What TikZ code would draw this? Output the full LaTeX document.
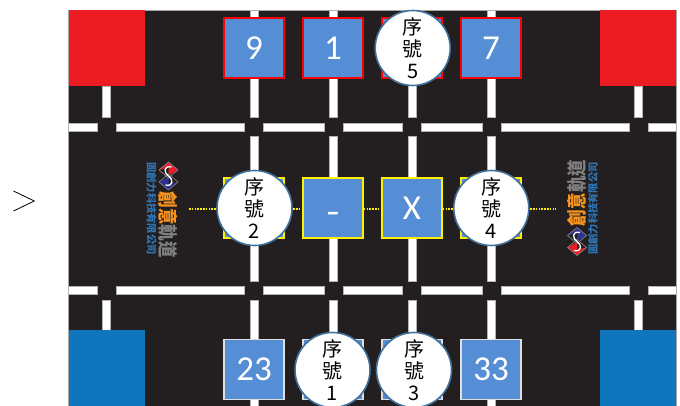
\documentclass[tikz,border=0pt]{standalone}
\usepackage{graphicx}
\usepackage{fontspec}
\setmainfont{Carlito}
\newfontfamily\cjk{Noto Sans CJK TC}
\definecolor{boardblack}{HTML}{231F20}
\definecolor{cornerred}{HTML}{ED1C24}
\definecolor{cornerblue}{HTML}{0F75BC}
\definecolor{tilefill}{HTML}{558ED5}
\definecolor{ringblue}{HTML}{41719C}
\definecolor{logoorange}{HTML}{F7941D}
\definecolor{logogray}{HTML}{808080}
\definecolor{logoblue}{HTML}{2F75B5}
\definecolor{logonavy}{HTML}{2E3192}
\tikzset{
  x=1pt,y=-1pt,
  whitebar/.style={fill=white,draw=gray!60,line width=0.4pt},
  tile/.style={rectangle,minimum size=60pt,inner sep=0pt,fill=tilefill,line width=1.5pt,text=white,font=\fontsize{35}{35}\selectfont},
  redtile/.style={tile,draw=red},
  yellowtile/.style={tile,draw=yellow},
  palitile/.style={tile,draw=gray!25},
  seq/.style={circle,minimum size=75pt,inner sep=0pt,fill=white,draw=ringblue,line width=1.6pt,align=center,text=black,font=\cjk\fontsize{20}{22}\selectfont},
  linkdot/.style={yellow,line width=2pt,dash pattern=on 1.6pt off 1.2pt},
  logomark/.pic={
    \fill[cornerred] (-9.5,-6) -- (0,-14) -- (9.5,-6) -- (0,-0.5) -- cycle;
    \fill[logonavy] (-9.5,6) -- (0,0.5) -- (9.5,6) -- (0,14) -- cycle;
    \fill[boardblack] (-9.5,-6) -- (0,-0.5) -- (0,-8) -- cycle;
    \fill[boardblack] (9.5,6) -- (0,0.5) -- (0,8) -- cycle;
    \draw[logogray,line width=0.7pt] (0,-14) -- (9.5,-6) -- (0,2) -- (-9.5,-6) -- cycle;
    \draw[logogray,line width=0.7pt] (0,14) -- (-9.5,6) -- (0,-2) -- (9.5,6) -- cycle;
    \draw[white,line width=1.3pt] (3,-9) .. controls (-5,-11) and (-5,-3) .. (0,0) .. controls (5,3) and (5,11) .. (-3,9);
  },
  logobig/.style={inner sep=0pt,font=\cjk\bfseries\fontsize{16.5}{16.5}\selectfont},
  logosmall/.style={inner sep=0pt,text=logoblue,font=\cjk\bfseries\fontsize{10.3}{10.3}\selectfont}
}
\begin{document}
\begin{tikzpicture}
\useasboundingbox (0,0) rectangle (680,406);
% board
\fill[boardblack] (68.5,10.5) rectangle (676,406);
\draw[gray!70,line width=0.5pt] (68.5,406) -- (68.5,10.5) -- (676,10.5) -- (676,406);
% horizontal bars
\foreach \yy in {127.3,290.3}{
  \foreach \xa/\xb in {68.5/97,116/244.3,263.3/323.7,342.7/402.3,421.3/481.7,500.7/629,648/676}{
    \draw[whitebar] (\xa,\yy-4) rectangle (\xb,\yy+4);
  }
}
% vertical bars
\foreach \xx in {253.7,333,411.7,491.2}{
  \draw[whitebar] (\xx-4,10.5) rectangle (\xx+4,117.5);
  \draw[whitebar] (\xx-4,136.7) rectangle (\xx+4,280.7);
  \draw[whitebar] (\xx-4,299.7) rectangle (\xx+4,406);
}
\foreach \xx in {106.3,638.3}{
  \draw[whitebar] (\xx-4,86) rectangle (\xx+4,117.5);
  \draw[whitebar] (\xx-4,299.7) rectangle (\xx+4,330.5);
}
% corners
\fill[cornerred] (68.5,10.5) rectangle (144.5,86.5);
\fill[cornerred] (600,10.5) rectangle (676,86.5);
\fill[cornerblue] (68.5,330) rectangle (144.5,406);
\fill[cornerblue] (600,330) rectangle (676,406);
% chevron
\coordinate (chevA) at (13.5,191);
\coordinate (chevB) at (34.3,201);
\coordinate (chevC) at (13.5,211);
\draw[black,line width=0.8pt] (chevA) -- (chevB) -- (chevC);
% tiles
\node[redtile] (t9) at (254,48) {9};
\node[redtile] (t1) at (333,48) {1};
\node[redtile] (t5) at (412,48) {};
\node[redtile] (t7) at (491,48) {7};
\node[yellowtile] (m2) at (254,208) {};
\node[yellowtile] (mminus) at (333,208) {\smash{\raisebox{-16pt}{\scalebox{1.2}[1]{-}}}};
\node[yellowtile] (mx) at (412,208) {X};
\node[yellowtile] (m4) at (491,208) {};
\node[palitile] (b23) at (254,369.7) {23};
\node[palitile] (b1) at (333,369.7) {};
\node[palitile] (b3) at (412,369.7) {};
\node[palitile] (b33) at (491,369.7) {33};
% dotted links
\coordinate (dotL) at (189,208.7);
\coordinate (dotR) at (556,208.7);
\draw[linkdot] (dotL) -- (m2.west |- dotL);
\draw[linkdot] (m2.east |- dotL) -- (mminus.west |- dotL);
\draw[linkdot] (mminus.east |- dotL) -- (mx.west |- dotL);
\draw[linkdot] (mx.east |- dotL) -- (m4.west |- dotL);
\draw[linkdot] (m4.east |- dotL) -- (dotR);
% sequence circles
\node[seq] (c5) at (412.7,48) {序\\號\\5};
\node[seq] (c2) at (254.5,208) {序\\號\\2};
\node[seq] (c4) at (491.3,208) {序\\號\\4};
\node[seq] (c1) at (332.5,370) {序\\號\\1};
\node[seq] (c3) at (414,370) {序\\號\\3};
% left logo
\pic at (168.5,176) {logomark};
\node[logobig,rotate=-90,anchor=center,xscale=1,yscale=1.2] (lbig) at (168.5,225)
  {\textcolor{logoorange}{創意}\textcolor{logogray}{軌道}};
\node[logosmall,rotate=-90,anchor=center] (lsmall) at (151.5,208.5) {圓創力科技有限公司};
% right logo
\pic[rotate=180] at (577,241.5) {logomark};
\node[logobig,rotate=90,anchor=center,xscale=1,yscale=1.2] (rbig) at (577,193)
  {\textcolor{logoorange}{創意}\textcolor{logogray}{軌道}};
\node[logosmall,rotate=90,anchor=center] (rsmall) at (593,208.5) {圓創力科技有限公司};
\end{tikzpicture}
\end{document}
